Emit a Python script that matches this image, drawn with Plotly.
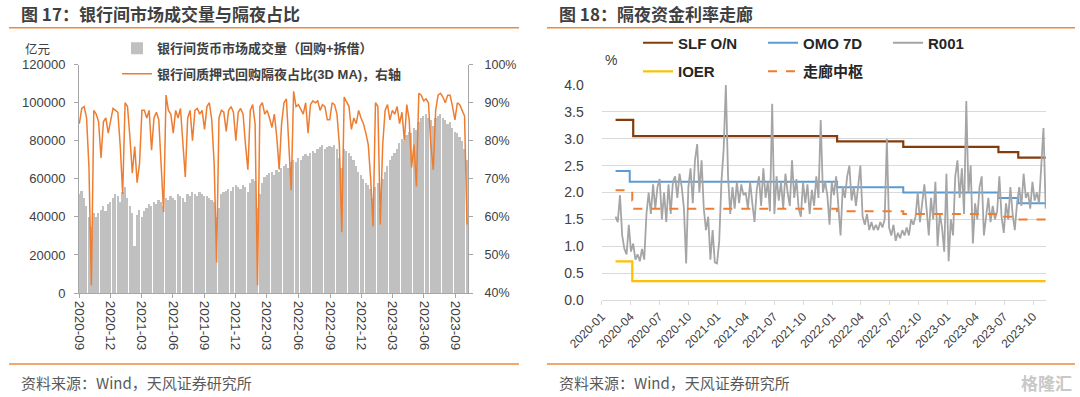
import pandas as pd
import plotly.graph_objects as go

# ---------------- Left chart: interbank volume & overnight share (weekly samples) ----------------
vol_start = "2020-09-02"
vol_freq = "7D"
vol_values = [
    52000, 54000, 50000, 46000, 40000, 35000, 42000,
    40000, 42000, 44000, 46000, 43000, 47000, 48000,
    50000, 52000, 51000, 48000, 53000, 56000,
    50000, 46000, 42000, 25000, 41000, 44000, 40000,
    43000, 45000, 47000, 46000, 48000, 47000, 49000, 48000, 46000,
    50000, 49000, 51000, 50000, 49000, 52000, 51000, 50000, 48000, 52000, 51000, 53000, 52000, 51000, 53000, 52000, 51000,
    51000, 50000, 49000, 48000, 40000, 45000,
    52000, 53000, 54000, 55000, 54000,
    56000, 57000, 56000, 55000, 57000, 56000, 53000,
    58000, 60000, 59000, 45000, 52000, 58000,
    61000, 62000, 63000, 64000, 62000, 65000, 64000, 66000,
    67000, 68000, 66000, 69000, 70000, 69000, 71000, 70000,
    72000, 73000, 72000, 74000, 75000, 74000, 76000,
    77000, 78000, 76000, 77000,
    77500, 76700, 78000, 76000, 71000, 66000, 76000,
    75000, 74000, 72000, 70000, 67000, 64000, 62000, 60000, 58000, 57000,
    55000, 50000, 56000, 58000, 45000, 60000, 64000, 67000, 70000, 72000,
    74000, 76000, 79000, 81000, 80000, 83000, 85000, 84000, 87000, 86000,
    90000, 92000, 93000, 94000, 92000, 91000, 88000, 92000, 93000, 94000,
    92000, 91000, 89000, 90000, 87000, 85000, 84000, 82000, 80000, 76000,
    70000,
]
on_share = [
    84.5, 88.5, 89, 86, 73, 42, 88, 87, 85, 75.5, 85,
    86, 82, 85.5, 88.5, 88, 87.5, 78.5, 66, 90, 89,
    81, 71.5, 78.5, 69, 74, 88, 88, 86, 88, 77.5,
    86, 87.5, 85.5, 75, 61.3, 92, 88, 87, 82, 88,
    86, 88.5, 80, 70.5, 86, 88, 80, 88, 88.5, 87, 88, 83,
    89, 90, 85.5, 74, 48, 86, 88, 87.5, 82.5, 88,
    89, 87.5, 80, 87.5, 88.5, 87, 79, 72.4, 88, 89.5,
    84.5, 42, 89, 90, 87, 88, 86, 83.5, 87, 81,
    72.5, 84.5, 90, 91, 79, 67, 93, 89, 89.5, 88,
    87, 90, 82, 89.5, 90.5, 90, 90.5, 88, 89.5, 89, 85.5,
    85.5, 90, 89.5, 87, 79, 56, 91.5, 90, 89, 83,
    86, 84.5, 88, 86, 84.5, 82, 79, 70, 57.5, 90,
    89, 58, 79, 88, 89.5, 85.5, 88, 87, 89, 84.5,
    87.5, 80, 89.5, 85.5, 73, 79, 68, 92.5, 92, 90.5,
    91, 90, 79, 72.4, 88, 92, 92.5, 91.5, 90, 92,
    92, 89, 85.5, 90, 89.5, 88, 86.5, 58,
]
left_yticks = [0, 20000, 40000, 60000, 80000, 100000, 120000]
left_y2ticks = [40, 50, 60, 70, 80, 90, 100]
left_y2labels = ["40%", "50%", "60%", "70%", "80%", "90%", "100%"]

# ---------------- Right chart: overnight rate corridor ----------------
r001_start = "2020-02-14"
r001_freq = "7D"
r001_values = [
    1.55, 1.45, 1.95, 1.2, 0.95, 0.85, 1.4, 0.9, 1.05, 0.75,
    0.85, 0.72, 0.95, 0.75, 1.6, 2.0, 1.6, 2.15, 1.7, 2.1,
    2.25, 1.5, 2.0, 1.45, 2.15, 1.6, 2.2, 2.3, 1.9, 2.35,
    2.1, 1.7, 0.68, 2.1, 2.45, 1.8, 2.6, 2.9, 2.0, 2.6,
    1.7, 1.3, 1.55, 0.75, 1.3, 0.7, 0.68, 1.1, 2.2, 2.8,
    4.0, 2.3, 1.6, 2.1, 1.7, 2.2, 1.8, 2.15, 1.95,
    2.0, 1.7, 2.2, 1.8, 1.45, 2.05, 2.3, 1.75, 2.45, 1.9,
    2.2, 1.65, 3.65, 1.6, 2.3, 1.85, 2.2, 1.7, 2.35, 2.0,
    1.75, 2.6, 1.9, 2.25, 1.7, 1.55, 2.2, 1.8, 2.15, 1.6,
    2.05, 1.75, 2.3, 1.9, 3.35, 2.0, 2.2, 1.95, 1.4, 2.2,
    1.95, 2.3, 1.8, 1.2, 2.1, 1.9, 2.3, 2.5, 1.85, 2.1,
    1.75, 2.2, 2.5, 1.55, 1.4, 1.6, 1.3, 1.45, 1.3, 1.4,
    1.3, 1.45, 1.35, 1.5,
    3.0, 1.35, 1.2, 1.4, 1.1, 1.25, 1.15, 1.3, 1.2, 1.35,
    1.2, 1.5, 1.4, 1.55, 2.0, 1.45, 1.75, 2.15, 1.7, 1.2,
    1.9, 1.5, 2.2, 1.0, 1.6, 1.35, 0.9, 2.35, 0.72, 1.5,
    1.2, 2.3, 2.6, 1.9, 2.45, 1.6, 3.7, 2.0, 2.5, 1.05,
    1.8, 1.5, 2.1, 2.3, 1.2, 1.6, 1.9, 1.45, 1.75, 1.5,
    1.65, 2.3, 1.55, 1.25, 1.8, 1.5, 2.1, 1.6, 1.3, 1.8,
    2.1, 1.75, 2.35, 1.9, 2.0, 1.7, 2.2, 1.85, 2.0, 1.8, 2.45, 3.2, 1.7,
]
slf_dates = ["2020-02-14", "2020-04-10", "2022-01-17", "2022-08-15", "2023-06-13", "2023-08-15", "2023-11-10"]
slf_values = [3.35, 3.05, 2.95, 2.85, 2.75, 2.65, 2.65]
omo_dates = ["2020-02-14", "2020-03-30", "2022-01-17", "2022-08-15", "2023-06-13", "2023-08-15", "2023-11-10"]
omo_values = [2.40, 2.20, 2.10, 2.00, 1.90, 1.80, 1.80]
ioer_dates = ["2020-02-14", "2020-04-07", "2023-11-10"]
ioer_values = [0.72, 0.35, 0.35]
mid_dates = ["2020-02-14", "2020-04-07", "2020-04-10", "2022-01-17", "2022-08-15", "2023-06-13", "2023-08-15", "2023-11-10"]
mid_values = [2.04, 1.85, 1.70, 1.65, 1.60, 1.55, 1.50, 1.50]

vol_dates = pd.date_range(vol_start, periods=len(vol_values), freq=vol_freq)
r001_dates = pd.date_range(r001_start, periods=len(r001_values), freq=r001_freq)

W, H = 1080, 397
def px(x):
    return x / W
def py(y):
    return (H - y) / H

FONT = "Liberation Sans, Arial, Noto Sans CJK SC, sans-serif"
CJK = "Noto Sans CJK SC, Liberation Sans, sans-serif"
TXT = "#404040"
ORANGE = "#ED7D31"

fig = go.Figure()

# Left chart
fig.add_trace(go.Bar(
    x=vol_dates, y=vol_values, name="银行间货币市场成交量（回购+拆借）",
    marker=dict(color="#C0C0C0", line=dict(width=0)),
    width=7 * 86400000 * 0.7, xaxis="x", yaxis="y", legend="legend",
))
fig.add_trace(go.Scatter(
    x=vol_dates, y=on_share, name="银行间质押式回购隔夜占比(3D MA)，右轴",
    mode="lines", line=dict(color=ORANGE, width=1.5),
    xaxis="x", yaxis="y2", legend="legend2",
))

# Right chart
fig.add_trace(go.Scatter(x=slf_dates, y=slf_values, name="SLF O/N", mode="lines",
                         line=dict(color="#843C0C", width=2.2, shape="hv"),
                         xaxis="x2", yaxis="y3", legend="legend3"))
fig.add_trace(go.Scatter(x=omo_dates, y=omo_values, name="OMO 7D", mode="lines",
                         line=dict(color="#5B9BD5", width=2, shape="hv"),
                         xaxis="x2", yaxis="y3", legend="legend3"))
fig.add_trace(go.Scatter(x=r001_dates, y=r001_values, name="R001", mode="lines",
                         line=dict(color="#A5A5A5", width=1.8),
                         xaxis="x2", yaxis="y3", legend="legend3"))
fig.add_trace(go.Scatter(x=ioer_dates, y=ioer_values, name="IOER", mode="lines",
                         line=dict(color="#FFC000", width=2.2, shape="hv"),
                         xaxis="x2", yaxis="y3", legend="legend4"))
fig.add_trace(go.Scatter(x=mid_dates, y=mid_values, name="走廊中枢", mode="lines",
                         line=dict(color=ORANGE, width=2, shape="hv", dash="dash"),
                         xaxis="x2", yaxis="y3", legend="legend4"))

axis_font = dict(family=FONT, size=13, color=TXT)

fig.update_layout(
    width=W, height=H,
    margin=dict(l=0, r=0, t=0, b=0, autoexpand=False),
    paper_bgcolor="white", plot_bgcolor="white",
    font=dict(family=FONT, color=TXT),
    bargap=0,
    xaxis=dict(
        domain=[px(79), px(468)], anchor="y", type="date",
        range=["2020-09-01", "2023-10-07"], tick0="2020-09-01", dtick="M3",
        tickformat="%Y-%m", tickangle=90, ticks="outside", ticklen=4,
        tickcolor="#A6A6A6", showline=True, linecolor="#A6A6A6", linewidth=1,
        showgrid=False, zeroline=False, automargin=False,
        tickfont=dict(family=FONT, size=13.5, color=TXT),
    ),
    yaxis=dict(
        domain=[py(293), py(64.7)], anchor="x", range=[0, 120000],
        tickvals=left_yticks, tickformat="d", ticks="outside", ticklen=4,
        tickcolor="#A6A6A6", showline=True, linecolor="#A6A6A6", linewidth=1,
        showgrid=False, zeroline=False, tickfont=axis_font, ticklabelstandoff=6,
        automargin=False,
    ),
    yaxis2=dict(
        overlaying="y", side="right", anchor="x", range=[40, 100],
        tickvals=left_y2ticks, ticktext=left_y2labels, ticks="outside", ticklen=4,
        tickcolor="#A6A6A6", showline=True, linecolor="#A6A6A6", linewidth=1,
        showgrid=False, zeroline=False, tickfont=dict(family=FONT, size=12.5, color=TXT),
        ticklabelstandoff=9, automargin=False,
    ),
    xaxis2=dict(
        domain=[px(601.7), px(1046)], anchor="y3", type="date",
        range=["2020-01-01", "2023-11-11"], tick0="2020-01-01", dtick="M3",
        tickformat="%Y-%m", tickangle=-45, ticks="outside", ticklen=4,
        tickcolor="#D9D9D9", showline=True, linecolor="#D9D9D9", linewidth=1,
        showgrid=False, zeroline=False, automargin=False,
        tickfont=dict(family=FONT, size=12, color=TXT),
    ),
    yaxis3=dict(
        domain=[py(300), py(85)], anchor="x2", range=[0, 4], dtick=0.5,
        tickformat=".1f", showgrid=True, gridcolor="#D9D9D9", gridwidth=1,
        zeroline=False, showline=False, ticks="", automargin=False,
        tickfont=dict(family=FONT, size=14, color=TXT),
        ticklabelstandoff=17,
    ),
    legend=dict(x=px(117), y=py(48.4), xanchor="left", yanchor="middle",
                bgcolor="rgba(0,0,0,0)", font=dict(family=FONT, size=13, color=TXT, weight="bold")),
    legend2=dict(x=px(117), y=py(73.7), xanchor="left", yanchor="middle",
                 bgcolor="rgba(0,0,0,0)", font=dict(family=FONT, size=13, color=TXT, weight="bold")),
    legend3=dict(x=px(638), y=py(43), xanchor="left", yanchor="middle", orientation="h",
                 entrywidth=80, entrywidthmode="pixels",
                 bgcolor="rgba(0,0,0,0)", font=dict(family=FONT, size=15, color="#262626", weight="bold")),
    legend4=dict(x=px(638), y=py(71.6), xanchor="left", yanchor="middle", orientation="h",
                 entrywidth=80, entrywidthmode="pixels",
                 bgcolor="rgba(0,0,0,0)", font=dict(family=FONT, size=15, color="#262626", weight="bold")),
    showlegend=True,
)

# Titles, rules, sources, units
rule_color = "#EE8A3C"
shapes = [
    dict(type="line", xref="paper", yref="paper", x0=px(9), x1=px(519), y0=py(27.7), y1=py(27.7),
         line=dict(color=rule_color, width=1.5)),
    dict(type="line", xref="paper", yref="paper", x0=px(547), x1=px(1075), y0=py(27.7), y1=py(27.7),
         line=dict(color=rule_color, width=1.5)),
    dict(type="line", xref="paper", yref="paper", x0=px(9), x1=px(519), y0=py(364), y1=py(364),
         line=dict(color=rule_color, width=1.5)),
    dict(type="line", xref="paper", yref="paper", x0=px(547), x1=px(1075), y0=py(364), y1=py(364),
         line=dict(color=rule_color, width=1.5)),
]
fig.update_layout(shapes=shapes)

def ann(text, x, y, size, color=TXT, bold=False, xanchor="left", family=CJK):
    fig.add_annotation(text=text, x=px(x), y=py(y), xref="paper", yref="paper",
                       xanchor=xanchor, yanchor="middle", showarrow=False,
                       font=dict(family=family, size=size, color=color, weight="bold" if bold else "normal"))

ann("图 17：银行间市场成交量与隔夜占比", 19, 13, 17, color="#404040", bold=True)
ann("图 18：隔夜资金利率走廊", 557, 13, 17, color="#404040", bold=True)
ann("资料来源：Wind，天风证券研究所", 19, 382, 15, color="#595959")
ann("资料来源：Wind，天风证券研究所", 557, 382, 15, color="#595959")
ann("亿元", 37, 49, 12.5, xanchor="center")
ann("%", 611, 60, 14, xanchor="center", family=FONT)
ann("格隆汇", 1074, 382, 17, color="#C8C8C8", bold=True, xanchor="right")

fig.write_html("out.html", config={"displayModeBar": False},
               post_script="document.body.style.margin='0px';document.body.style.overflow='hidden';")
